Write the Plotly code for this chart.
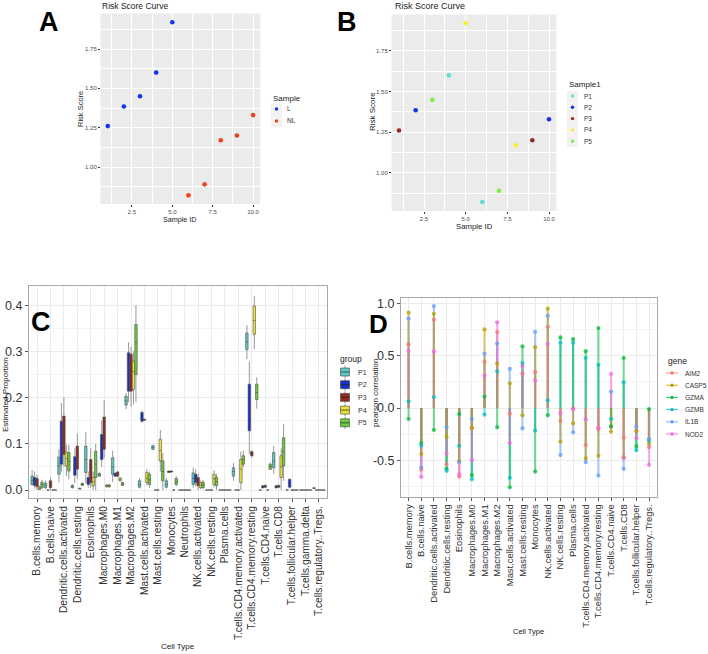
import plotly.graph_objects as go

W, H = 708, 654
FONT = "Liberation Sans, Arial, sans-serif"

# ---------------- data: panels A / B ----------------
sample_id = list(range(1, 11))
risk_score = [1.26, 1.385, 1.45, 1.60, 1.92, 0.82, 0.89, 1.17, 1.20, 1.33]
sample_A = ["L", "L", "L", "L", "L", "NL", "NL", "NL", "NL", "NL"]
sample_B = ["P3", "P2", "P5", "P1", "P4", "P1", "P5", "P4", "P3", "P2"]
levels_A = ["L", "NL"]
levels_B = ["P1", "P2", "P3", "P4", "P5"]
colors_A = {"L": "#1434F0", "NL": "#F0401E"}
colors_B = {"P1": "#62DED2", "P2": "#1530F0", "P3": "#9A2A2A", "P4": "#F5F030", "P5": "#7CF040"}

# ---------------- data: panel C (box stats: low, q1, median, q3, high) ----------------
cells_C = ["B.cells.memory", "B.cells.naive", "Dendritic.cells.activated", "Dendritic.cells.resting",
           "Eosinophils", "Macrophages.M0", "Macrophages.M1", "Macrophages.M2",
           "Mast.cells.activated", "Mast.cells.resting", "Monocytes", "Neutrophils",
           "NK.cells.activated", "NK.cells.resting", "Plasma.cells",
           "T.cells.CD4.memory.activated", "T.cells.CD4.memory.resting", "T.cells.CD4.naive",
           "T.cells.CD8", "T.cells.follicular.helper", "T.cells.gamma.delta",
           "T.cells.regulatory..Tregs."]
Z = (0, 0, 0, 0, 0)
box_P1 = [(0.009, 0.012, 0.021, 0.030, 0.043), (0.002, 0.005, 0.010, 0.015, 0.020),
          (0.016, 0.034, 0.052, 0.071, 0.088), (0.003, 0.005, 0.007, 0.010, 0.013),
          (0.015, 0.038, 0.066, 0.095, 0.125), (0.028, 0.030, 0.033, 0.036, 0.038),
          (0.017, 0.034, 0.050, 0.070, 0.085), (0.175, 0.184, 0.193, 0.203, 0.210),
          (0.003, 0.006, 0.012, 0.020, 0.026), (0.086, 0.088, 0.092, 0.096, 0.098),
          (0.003, 0.006, 0.012, 0.020, 0.026), Z,
          (0.005, 0.012, 0.025, 0.037, 0.048), Z, Z,
          (0.020, 0.030, 0.040, 0.048, 0.058), (0.283, 0.304, 0.320, 0.340, 0.357), Z,
          (0.035, 0.048, 0.063, 0.081, 0.095), Z, Z, (0.002, 0.003, 0.004, 0.005, 0.006)]
box_P2 = [(0.003, 0.010, 0.020, 0.027, 0.040), Z,
          (0.040, 0.056, 0.110, 0.149, 0.188), (0.015, 0.032, 0.055, 0.072, 0.090),
          (0.005, 0.012, 0.020, 0.027, 0.040), (0.050, 0.066, 0.095, 0.120, 0.150),
          (0.028, 0.030, 0.033, 0.036, 0.039), (0.190, 0.214, 0.255, 0.297, 0.320),
          (0.145, 0.149, 0.155, 0.168, 0.172), Z,
          (0.037, 0.038, 0.040, 0.041, 0.042), Z,
          (0.008, 0.016, 0.025, 0.034, 0.045), Z, Z, Z,
          (0.078, 0.128, 0.178, 0.229, 0.278), (0.003, 0.005, 0.007, 0.009, 0.011),
          (0.003, 0.005, 0.007, 0.009, 0.011), (0.003, 0.006, 0.015, 0.023, 0.025), Z, Z]
box_P3 = [(0.000, 0.007, 0.015, 0.025, 0.033), (0.000, 0.005, 0.012, 0.020, 0.027),
          (0.050, 0.077, 0.115, 0.160, 0.200), (0.025, 0.045, 0.065, 0.095, 0.122),
          (0.005, 0.016, 0.040, 0.066, 0.090), (0.070, 0.088, 0.120, 0.158, 0.195),
          (0.028, 0.030, 0.035, 0.039, 0.041), (0.180, 0.214, 0.260, 0.294, 0.310),
          (0.150, 0.151, 0.152, 0.153, 0.154), Z,
          (0.037, 0.039, 0.040, 0.041, 0.042), Z,
          (0.000, 0.009, 0.018, 0.027, 0.035), Z, Z, Z,
          (0.070, 0.074, 0.078, 0.083, 0.086), (0.004, 0.006, 0.008, 0.010, 0.012),
          (0.004, 0.006, 0.008, 0.010, 0.012), Z, Z, Z]
box_P4 = [(0.000, 0.001, 0.003, 0.006, 0.010), Z,
          (0.030, 0.052, 0.068, 0.082, 0.098), (0.001, 0.002, 0.003, 0.004, 0.005),
          (0.000, 0.009, 0.018, 0.027, 0.040), (0.005, 0.007, 0.009, 0.011, 0.013),
          (0.018, 0.020, 0.023, 0.026, 0.028), (0.185, 0.218, 0.256, 0.279, 0.300),
          (0.010, 0.016, 0.025, 0.038, 0.045), (0.040, 0.063, 0.085, 0.110, 0.130),
          Z, Z,
          (0.002, 0.005, 0.011, 0.016, 0.020), (0.005, 0.012, 0.024, 0.034, 0.043), Z,
          (0.000, 0.016, 0.045, 0.066, 0.083), (0.305, 0.337, 0.367, 0.398, 0.420), Z,
          (0.000, 0.027, 0.050, 0.074, 0.090), Z, Z, Z]
box_P5 = [(0.002, 0.005, 0.012, 0.017, 0.022), Z,
          (0.023, 0.041, 0.062, 0.081, 0.098), (0.009, 0.010, 0.012, 0.014, 0.016),
          (0.000, 0.027, 0.056, 0.084, 0.100), (0.005, 0.007, 0.009, 0.011, 0.013),
          (0.008, 0.010, 0.013, 0.016, 0.018), (0.190, 0.250, 0.320, 0.358, 0.400),
          (0.005, 0.012, 0.022, 0.034, 0.040), (0.000, 0.020, 0.040, 0.063, 0.080),
          (0.008, 0.012, 0.018, 0.025, 0.030), Z,
          (0.002, 0.005, 0.011, 0.017, 0.022), (0.000, 0.009, 0.018, 0.027, 0.035), Z,
          (0.050, 0.056, 0.065, 0.074, 0.085), (0.176, 0.196, 0.211, 0.229, 0.244),
          (0.043, 0.045, 0.051, 0.056, 0.060),
          (0.020, 0.052, 0.083, 0.113, 0.143), Z, Z, Z]
groups_C = ["P1", "P2", "P3", "P4", "P5"]
boxes_C = {"P1": box_P1, "P2": box_P2, "P3": box_P3, "P4": box_P4, "P5": box_P5}
colors_C = {"P1": "#5FC9C1", "P2": "#1530C8", "P3": "#8E2B22", "P4": "#E8E23A", "P5": "#6CCB3A"}

# ---------------- data: panel D (pearson correlation) ----------------
cells_D = ["B.cells.memory", "B.cells.naive", "Dendritic.cells.activated", "Dendritic.cells.resting",
           "Eosinophils", "Macrophages.M0", "Macrophages.M1", "Macrophages.M2",
           "Mast.cells.activated", "Mast.cells.resting", "Monocytes",
           "NK.cells.activated", "NK.cells.resting", "Plasma.cells",
           "T.cells.CD4.memory.activated", "T.cells.CD4.memory.resting", "T.cells.CD4.naive",
           "T.cells.CD8", "T.cells.follicular.helper", "T.cells.regulatory..Tregs."]
genes = ["AIM2", "CASP5", "GZMA", "GZMB", "IL1B", "NOD2"]
cor_AIM2 = [0.61, -0.59, 0.843, -0.537, -0.655, -0.19, 0.44, 0.725, -0.054, 0.33,
            0.342, 0.776, -0.125, -0.006, -0.355, -0.204, -0.18, -0.284, -0.215, -0.374]
cor_CASP5 = [0.91, -0.44, 0.90, -0.278, -0.508, -0.188, 0.75, 0.425, 0.236, -0.07,
             0.581, 0.949, -0.323, -0.147, -0.482, -0.457, -0.227, -0.47, -0.225, -0.339]
cor_GZMA = [-0.105, -0.335, -0.21, -0.58, -0.058, -0.642, 0.109, -0.185, -0.757, 0.59,
            -0.607, -0.07, 0.674, 0.658, 0.543, 0.764, -0.176, 0.479, -0.367, -0.01]
cor_GZMB = [0.064, -0.36, 0.105, -0.60, -0.361, -0.68, -0.064, 0.35, -0.668, 0.43,
            -0.217, 0.073, 0.623, 0.623, 0.479, 0.412, -0.105, 0.246, -0.403, -0.31]
cor_IL1B = [0.856, -0.569, 0.974, -0.185, -0.515, -0.105, 0.52, 0.617, 0.374, -0.195,
            0.728, 0.882, -0.45, -0.233, -0.518, -0.645, 0.157, -0.581, -0.179, -0.297]
cor_NOD2 = [0.546, -0.658, 0.54, -0.435, -0.633, -0.498, 0.31, 0.818, -0.335, 0.40,
            0.262, 0.613, -0.051, -0.01, -0.109, -0.188, 0.326, -0.48, -0.288, -0.543]
cor_D = {"AIM2": cor_AIM2, "CASP5": cor_CASP5, "GZMA": cor_GZMA,
         "GZMB": cor_GZMB, "IL1B": cor_IL1B, "NOD2": cor_NOD2}
colors_D = {"AIM2": "#F8766D", "CASP5": "#B79F00", "GZMA": "#00BA38",
            "GZMB": "#00BFC4", "IL1B": "#619CFF", "NOD2": "#F564E3"}
line_order_D = ["AIM2", "GZMB", "IL1B", "GZMA", "NOD2", "CASP5"]


def X(px):
    return px / W


def Y(py):
    return 1 - py / H


fig = go.Figure()

# ---- A ----
for g in levels_A:
    xs = [s for s, k in zip(sample_id, sample_A) if k == g]
    ys = [r for r, k in zip(risk_score, sample_A) if k == g]
    fig.add_trace(go.Scatter(x=xs, y=ys, mode="markers", xaxis="x", yaxis="y",
                             marker=dict(size=4.6, color=colors_A[g]), showlegend=False))
# ---- B ----
for g in levels_B:
    xs = [s for s, k in zip(sample_id, sample_B) if k == g]
    ys = [r for r, k in zip(risk_score, sample_B) if k == g]
    fig.add_trace(go.Scatter(x=xs, y=ys, mode="markers", xaxis="x2", yaxis="y2",
                             marker=dict(size=4.6, color=colors_B[g]), showlegend=False))
# ---- C ----
for g in groups_C:
    st = boxes_C[g]
    fig.add_trace(go.Box(
        x=cells_C, lowerfence=[s[0] for s in st], q1=[s[1] for s in st],
        median=[s[2] for s in st], q3=[s[3] for s in st], upperfence=[s[4] for s in st],
        name=g, xaxis="x3", yaxis="y3", fillcolor=colors_C[g],
        line=dict(color="rgba(70,70,70,0.55)", width=1), whiskerwidth=0,
        boxpoints=False, showlegend=False))
# ---- D ----
for g in line_order_D:
    xs, ys = [], []
    for c, v in zip(cells_D, cor_D[g]):
        xs += [c, c, None]
        ys += [0, v, None]
    fig.add_trace(go.Scatter(x=xs, y=ys, mode="lines", xaxis="x4", yaxis="y4",
                             line=dict(color=colors_D[g], width=2.2), opacity=0.5,
                             showlegend=False, hoverinfo="skip"))
for g in genes:
    fig.add_trace(go.Scatter(x=cells_D, y=cor_D[g], mode="markers", xaxis="x4", yaxis="y4",
                             marker=dict(size=4.2, color=colors_D[g]), opacity=0.75,
                             showlegend=False))

shapes = []
ann = []


def text(px, py, s, size, color="#222", xanchor="left", yanchor="middle", angle=0, bold=False):
    ann.append(dict(x=X(px), y=Y(py), xref="paper", yref="paper", text=("<b>%s</b>" % s) if bold else s,
                    showarrow=False, xanchor=xanchor, yanchor=yanchor, textangle=angle,
                    font=dict(family=FONT, size=size, color=color)))


# gray panels for A/B
for ax in ["x", "x2"]:
    yy = "y" if ax == "x" else "y2"
    shapes.append(dict(type="rect", xref=ax + " domain", yref=yy + " domain", x0=0, x1=1, y0=0, y1=1,
                       fillcolor="#EBEBEB", line=dict(width=0), layer="below"))

# panel letters
text(49, 22, "A", 27, "#000", "center", bold=True)
text(347, 22, "B", 27, "#000", "center", bold=True)
text(41, 322, "C", 27, "#000", "center", bold=True)
text(378, 324, "D", 26, "#000", "center", bold=True)

# titles
text(100, 6, "Risk Score Curve", 8.5, "#222")
text(393, 6, "Risk Score Curve", 9, "#222")
text(180, 219.5, "Sample ID", 7.2, "#222", "center")
text(81, 109, "Risk Score", 7.5, "#222", "center", angle=-90)
text(474, 227, "Sample ID", 7.8, "#222", "center")
text(373, 112, "Risk Score", 8, "#222", "center", angle=-90)
text(178, 646, "Cell Type", 8, "#222", "center")
text(5, 395, "Estimated Proportion", 8, "#222", "center", angle=-90)
text(528, 631, "Cell Type", 7.5, "#222", "center")
text(376, 393, "pearson correlation", 8, "#222", "center", angle=-90)

# legend A
text(271, 98, "Sample", 8, "#222")
shapes.append(dict(type="rect", xref="paper", yref="paper", x0=X(271), x1=X(282), y0=Y(127), y1=Y(103),
                   fillcolor="#F2F2F2", line=dict(width=0)))
for i, g in enumerate(levels_A):
    yc = 109 + 12 * i
    shapes.append(dict(type="circle", xref="paper", yref="paper", x0=X(274.8), x1=X(278.2),
                       y0=Y(yc + 1.7), y1=Y(yc - 1.7), fillcolor=colors_A[g], line=dict(width=0)))
    text(285, yc, g, 6.5, "#333")

# legend B
text(567, 84, "Sample1", 8, "#222")
shapes.append(dict(type="rect", xref="paper", yref="paper", x0=X(567), x1=X(578), y0=Y(147), y1=Y(91),
                   fillcolor="#F2F2F2", line=dict(width=0)))
for i, g in enumerate(levels_B):
    yc = 96 + 11.3 * i
    shapes.append(dict(type="circle", xref="paper", yref="paper", x0=X(570.8), x1=X(574.2),
                       y0=Y(yc + 1.7), y1=Y(yc - 1.7), fillcolor=colors_B[g], line=dict(width=0)))
    text(582, yc, g, 6.5, "#333")

# legend C
text(338, 359, "group", 8.5, "#222")
for i, g in enumerate(groups_C):
    yc = 372 + 12.7 * i
    shapes.append(dict(type="line", xref="paper", yref="paper", x0=X(345), x1=X(345), y0=Y(yc - 6),
                       y1=Y(yc + 6), line=dict(color="rgba(70,70,70,0.6)", width=1)))
    shapes.append(dict(type="rect", xref="paper", yref="paper", x0=X(340.5), x1=X(349.5), y0=Y(yc + 4),
                       y1=Y(yc - 4), fillcolor=colors_C[g], line=dict(color="rgba(70,70,70,0.6)", width=1)))
    shapes.append(dict(type="line", xref="paper", yref="paper", x0=X(340.5), x1=X(349.5), y0=Y(yc),
                       y1=Y(yc), line=dict(color="rgba(40,40,40,0.7)", width=1)))
    text(356, yc, g, 7, "#333")

# legend D
text(666, 361, "gene", 8.5, "#222")
for i, g in enumerate(genes):
    yc = 373 + 12.2 * i
    shapes.append(dict(type="line", xref="paper", yref="paper", x0=X(666), x1=X(678), y0=Y(yc), y1=Y(yc),
                       line=dict(color=colors_D[g], width=1), opacity=0.8))
    shapes.append(dict(type="circle", xref="paper", yref="paper", x0=X(670.3), x1=X(673.7),
                       y0=Y(yc + 1.7), y1=Y(yc - 1.7), fillcolor=colors_D[g], line=dict(width=0)))
    text(683, yc, g, 6.5, "#333")

ab_x = dict(range=[0.55, 10.45], tickvals=[2.5, 5, 7.5, 10], ticktext=["2.5", "5.0", "7.5", "10.0"],
            showgrid=True, gridcolor="white", gridwidth=1, zeroline=False, showline=False,
            ticks="outside", ticklen=1.5, tickcolor="#333", tickwidth=0.8,
            tickfont=dict(family=FONT, size=6, color="#4D4D4D"),
            minor=dict(tickvals=[1.25, 3.75, 6.25, 8.75], showgrid=True, gridcolor="white", gridwidth=0.5,
                       ticks=""),
            automargin=False)
ab_y = dict(range=[0.765, 1.975], tickvals=[1, 1.25, 1.5, 1.75], ticktext=["1.00", "1.25", "1.50", "1.75"],
            showgrid=True, gridcolor="white", gridwidth=1, zeroline=False, showline=False,
            ticks="outside", ticklen=1.5, tickcolor="#333", tickwidth=0.8,
            tickfont=dict(family=FONT, size=6, color="#4D4D4D"),
            minor=dict(tickvals=[0.875, 1.125, 1.375, 1.625, 1.875], showgrid=True, gridcolor="white",
                       gridwidth=0.5, ticks=""),
            automargin=False)

c_top, c_bot = 286, 498
d_top, d_bot = 298, 496.6

layout = dict(
    width=W, height=H, margin=dict(l=0, r=0, t=0, b=0), autosize=False,
    paper_bgcolor="white", plot_bgcolor="white", showlegend=False,
    boxmode="group", boxgap=0.08, boxgroupgap=0.0,
    font=dict(family=FONT),
    xaxis=dict(domain=[X(100.5), X(260.3)], anchor="y", **ab_x),
    yaxis=dict(domain=[Y(204), Y(13.6)], anchor="x", **ab_y),
    xaxis2=dict(domain=[X(391.5), X(556.5)], anchor="y2", **ab_x),
    yaxis2=dict(domain=[Y(211), Y(14.4)], anchor="x2", **ab_y),
    xaxis3=dict(domain=[X(29), X(327)], anchor="y3", type="category", categoryorder="array",
                categoryarray=cells_C, range=[-0.6, len(cells_C) - 0.4], tickangle=-90,
                tickfont=dict(family=FONT, size=10.2, color="#333"), showgrid=True, gridcolor="#EBEBEB",
                gridwidth=0.8, showline=True, mirror=True, linecolor="#A8A8A8", linewidth=1,
                ticks="outside", ticklen=3, tickcolor="#555", tickwidth=0.8, automargin=False),
    yaxis3=dict(domain=[Y(c_bot), Y(c_top)], anchor="x3",
                range=[(490 - c_bot) / 462, (490 - c_top) / 462],
                tickvals=[0, 0.1, 0.2, 0.3, 0.4], ticktext=["0.0", "0.1", "0.2", "0.3", "0.4"],
                tickfont=dict(family=FONT, size=12.5, color="#333"), showgrid=True, gridcolor="#EBEBEB",
                gridwidth=0.8, zeroline=False, showline=True, mirror=True, linecolor="#A8A8A8",
                linewidth=1, ticks="outside", ticklen=3, tickcolor="#555", tickwidth=0.8,
                minor=dict(tickvals=[0.05, 0.15, 0.25, 0.35], showgrid=True, gridcolor="#F4F4F4",
                           gridwidth=0.5, ticks=""),
                automargin=False),
    xaxis4=dict(domain=[X(401), X(656.6)], anchor="y4", type="category", categoryorder="array",
                categoryarray=cells_D, range=[-0.6, len(cells_D) - 0.4], tickangle=-90,
                tickfont=dict(family=FONT, size=9.4, color="#333"), showgrid=True, gridcolor="#EBEBEB",
                gridwidth=0.8, showline=True, mirror=True, linecolor="#A8A8A8", linewidth=1,
                ticks="outside", ticklen=3, tickcolor="#555", tickwidth=0.8, automargin=False),
    yaxis4=dict(domain=[Y(d_bot), Y(d_top)], anchor="x4",
                range=[(408 - d_bot) / 104.7, (408 - d_top) / 104.7],
                tickvals=[-0.5, 0, 0.5, 1.0], ticktext=["-0.5", "0.0", "0.5", "1.0"],
                tickfont=dict(family=FONT, size=12.5, color="#333"), showgrid=True, gridcolor="#EBEBEB",
                gridwidth=0.8, zeroline=False, showline=True, mirror=True, linecolor="#A8A8A8",
                linewidth=1, ticks="outside", ticklen=3, tickcolor="#555", tickwidth=0.8,
                minor=dict(tickvals=[-0.75, -0.25, 0.25, 0.75], showgrid=True, gridcolor="#F4F4F4",
                           gridwidth=0.5, ticks=""),
                automargin=False),
    shapes=shapes, annotations=ann,
)
fig.update_layout(**layout)
fig.write_html("out.html")
